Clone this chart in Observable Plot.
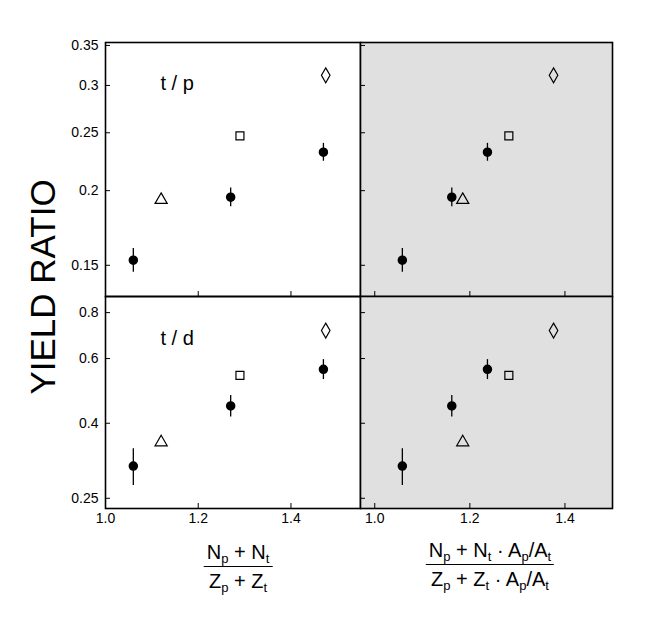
<!DOCTYPE html>
<html>
<head>
<meta charset="utf-8">
<script src="https://cdn.jsdelivr.net/npm/d3@7"></script>
<script src="https://cdn.jsdelivr.net/npm/@observablehq/plot@0.6"></script>
<style>
  body { margin: 0; background: #fff; }
  #wrap { position: relative; width: 645px; height: 628px; font-family: "Liberation Sans", sans-serif; color: #000; }
  .panel { position: absolute; }
  .ytitle { position: absolute; left: 43px; top: 287px; transform: translate(-50%, -50%) rotate(-90deg); font-size: 35px; white-space: nowrap; letter-spacing: 0px; }
  .frac { position: absolute; text-align: center; font-size: 20px; line-height: 22px; transform: translateX(-50%); }
  .frac .num { border-bottom: 1.6px solid #000; padding: 0 3px 3px; }
  .frac .den { padding-top: 3px; }
  sub { font-size: 13px; vertical-align: -4px; line-height: 0; }
</style>
</head>
<body>
<div id="wrap">
  <div class="ytitle">YIELD RATIO</div>
  <div class="frac" style="left:238px; top:541px;">
    <div class="num">N<sub>p</sub> + N<sub>t</sub></div>
    <div class="den">Z<sub>p</sub> + Z<sub>t</sub></div>
  </div>
  <div class="frac" style="left:490px; top:539px;">
    <div class="num">N<sub>p</sub> + N<sub>t</sub> · A<sub>p</sub>/A<sub>t</sub></div>
    <div class="den">Z<sub>p</sub> + Z<sub>t</sub> · A<sub>p</sub>/A<sub>t</sub></div>
  </div>
</div>
<script>
// ---- data ----
const xLeftData  = [1.06, 1.27, 1.47];    // (Np+Nt)/(Zp+Zt), filled symbols
const xLeftOpen  = [1.12, 1.29, 1.475];   // open symbols
const xRightData = [1.058, 1.162, 1.237]; // right-column abscissa, filled
const xRightOpen = [1.185, 1.282, 1.376]; // right-column abscissa, open
const tpData = [0.153, 0.195, 0.232];
const tpErr  = [0.007, 0.007, 0.008];
const tpOpen = [0.193, 0.247, 0.312];
const tdData = [0.306, 0.446, 0.561];
const tdErr  = [0.035, 0.03, 0.035];
const tdOpen = [0.355, 0.54, 0.715];
const openSymbols = ["triangle", "square", "diamond"];
const xTicks = [1.0, 1.2, 1.4];
const yTicksTP = [0.15, 0.2, 0.25, 0.3, 0.35];
const yTicksTD = [0.25, 0.4, 0.6, 0.8];
const panelLabels = ["t / p", "t / d"];

const idx = d3.range(3);
const font = "Liberation Sans, sans-serif";

function panel(o) {
  const marks = [];
  if (o.fill) marks.push(Plot.frame({fill: o.fill, stroke: null}));
  marks.push(Plot.ruleX(idx, {x: i => o.xData[i], y1: i => o.yData[i] - o.yErr[i], y2: i => o.yData[i] + o.yErr[i], stroke: "#000", strokeWidth: 1.3}));
  marks.push(Plot.dot(idx, {x: i => o.xData[i], y: i => o.yData[i], r: 4, fill: "#000", stroke: "#000"}));
  marks.push(Plot.dot(idx, {x: i => o.xOpen[i], y: i => o.yOpen[i], r: 4.5, fill: "none", stroke: "#000", strokeWidth: 1.2, symbol: i => openSymbols[i]}));
  if (o.label) marks.push(Plot.text([o.label], {frameAnchor: "top-left", dx: 55, dy: o.labelDy, fontSize: 20, textAnchor: "start"}));
  if (o.showY) marks.push(Plot.axisY({ticks: o.yTicks, tickFormat: d => String(d), tickSize: -5, tickPadding: 12, label: null, fontSize: 14}));
  else marks.push(Plot.axisY({ticks: o.yTicks, tickFormat: () => "", tickSize: -5, label: null}));
  if (o.showX) marks.push(Plot.axisX({ticks: xTicks, tickFormat: d3.format(".1f"), tickSize: -5, tickPadding: 10, label: null, fontSize: 14}));
  else marks.push(Plot.axisX({ticks: xTicks, tickFormat: () => "", tickSize: -5, anchor: "bottom", label: null}));
  marks.push(Plot.frame({stroke: "#000", strokeWidth: 1.6}));
  const p = Plot.plot({
    width: o.width, height: o.height,
    marginLeft: o.marginLeft, marginRight: 0, marginTop: 0, marginBottom: o.marginBottom,
    style: {background: "transparent", overflow: "visible", fontFamily: font, color: "#000"},
    x: {domain: o.xDom},
    y: {type: "log", domain: o.yDom},
    marks
  });
  p.classList.add("panel");
  p.style.position = "absolute";
  p.style.left = o.left + "px";
  p.style.top = o.top + "px";
  document.getElementById("wrap").appendChild(p);
}

const leftDom = [1.0, 1.55];
const rightDom = [0.97, 1.50];
const tpDom = [0.133, 0.354];
const tdDom = [0.2345, 0.885];

// upper left: t/p
panel({left: 35, top: 42, width: 325, height: 254, marginLeft: 70, marginBottom: 0,
  xDom: leftDom, yDom: tpDom, yTicks: yTicksTP, showY: true, showX: false,
  xData: xLeftData, yData: tpData, yErr: tpErr, xOpen: xLeftOpen, yOpen: tpOpen,
  label: panelLabels[0], labelDy: 33});
// upper right
panel({left: 360, top: 42, width: 252, height: 254, marginLeft: 0, marginBottom: 0, fill: "#e0e0e0",
  xDom: rightDom, yDom: tpDom, yTicks: yTicksTP, showY: false, showX: false,
  xData: xRightData, yData: tpData, yErr: tpErr, xOpen: xRightOpen, yOpen: tpOpen});
// lower left: t/d
panel({left: 35, top: 296, width: 325, height: 242, marginLeft: 70, marginBottom: 30,
  xDom: leftDom, yDom: tdDom, yTicks: yTicksTD, showY: true, showX: true,
  xData: xLeftData, yData: tdData, yErr: tdErr, xOpen: xLeftOpen, yOpen: tdOpen,
  label: panelLabels[1], labelDy: 34});
// lower right
panel({left: 360, top: 296, width: 252, height: 242, marginLeft: 0, marginBottom: 30, fill: "#e0e0e0",
  xDom: rightDom, yDom: tdDom, yTicks: yTicksTD, showY: false, showX: true,
  xData: xRightData, yData: tdData, yErr: tdErr, xOpen: xRightOpen, yOpen: tdOpen});
</script>
</body>
</html>
